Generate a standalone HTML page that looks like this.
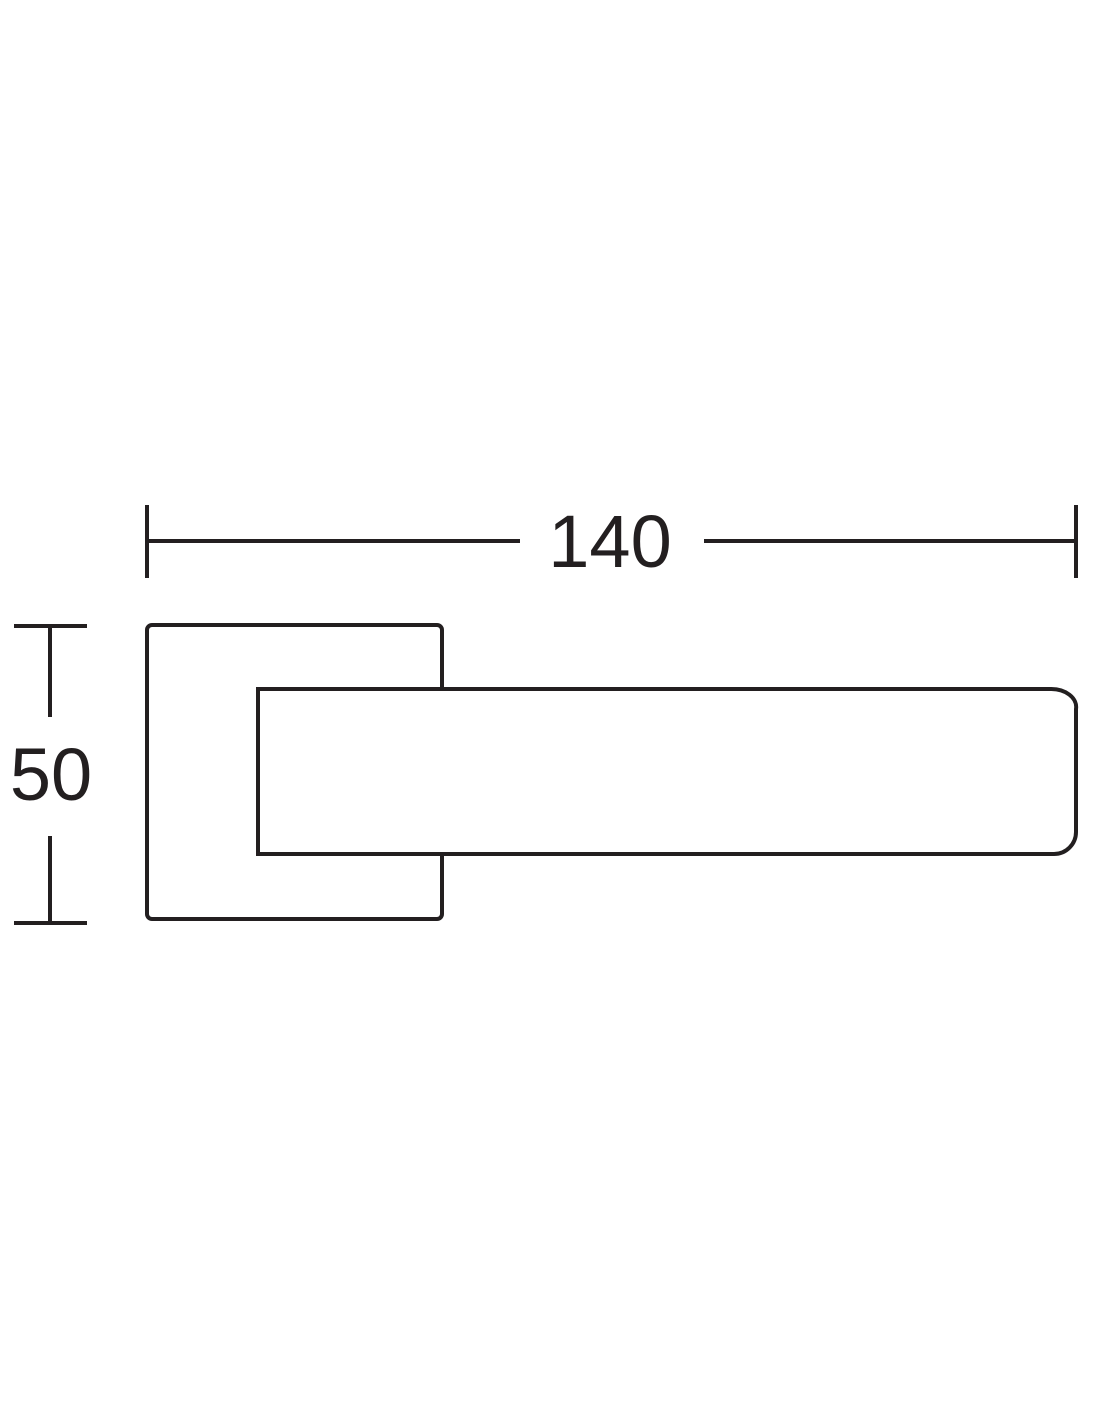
<!DOCTYPE html>
<html><head><meta charset="utf-8"><style>html,body{margin:0;padding:0;background:#fff}</style></head>
<body>
<svg width="1100" height="1422" viewBox="0 0 1100 1422" xmlns="http://www.w3.org/2000/svg">
<g stroke="#231f20" stroke-width="4" fill="none">
<line x1="147" y1="505" x2="147" y2="578"/>
<line x1="1076" y1="505" x2="1076" y2="578"/>
<line x1="147" y1="541" x2="520" y2="541"/>
<line x1="704" y1="541" x2="1076" y2="541"/>
<line x1="14" y1="626" x2="87" y2="626"/>
<line x1="14" y1="923" x2="87" y2="923"/>
<line x1="50" y1="626" x2="50" y2="717"/>
<line x1="50" y1="836" x2="50" y2="923"/>
<path d="M442 689 V630 a5 5 0 0 0 -5 -5 H152 a5 5 0 0 0 -5 5 V914 a5 5 0 0 0 5 5 H437 a5 5 0 0 0 5 -5 V854"/>
<path d="M258 689 H1050 a25 18 0 0 1 26 20 V832 a22 22 0 0 1 -22 22 H258 Z"/>
</g>
<g font-family="Liberation Sans, sans-serif" font-size="74" fill="#231f20">
<text x="610" y="567" text-anchor="middle">140</text>
<text x="51" y="800" text-anchor="middle">50</text>
</g>
</svg>
</body></html>
